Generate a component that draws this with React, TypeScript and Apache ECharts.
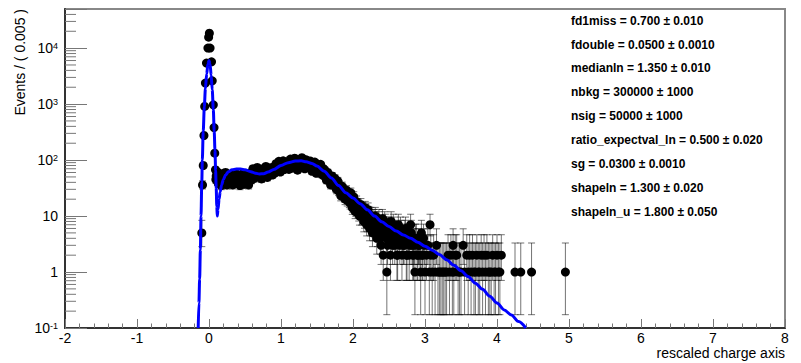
import React, { useEffect, useRef } from "react";
import * as echarts from "echarts";

const FONT = "'Liberation Sans', Arial, Helvetica, sans-serif";

// Peak region (x, events)
const peakX = [-0.1, -0.09, -0.08, -0.07, -0.06, -0.05, -0.035, -0.015, -0.005, 0.005, 0.015, 0.035, 0.045, 0.06, 0.07, 0.08, 0.09, 0.095];
const peakY = [5, 36, 80, 275, 910, 2370, 5400, 10000, 15700, 18500, 10000, 5700, 2600, 970, 380, 133, 67, 45];

// Dense band, bins starting at 0.10 every 0.02
const bandStart = 0.1;
const bandStep = 0.02;
const bandY = [
  52, 41, 58, 45, 37, 50, 44, 55, 39, 47, 52,
  42, 49, 38, 53, 45, 40, 51, 44, 37, 48, 54, 43, 50, 46, 56,
  49, 60, 53, 66, 57, 50, 63, 68, 55, 61, 72, 58, 65, 54, 69,
  75, 63, 82, 70, 88, 66, 78, 92, 71, 84,
  95, 76, 88, 102, 80, 93, 70, 98, 86, 105, 79, 91, 74, 96, 83,
  88, 71, 80, 66, 75, 62, 70, 57, 64, 52,
  58, 47, 54, 41, 46, 37, 43, 32, 38, 28,
  33, 25, 30, 22, 27, 19, 24, 17, 21, 15,
  19, 13, 16, 11, 14, 10, 13, 9, 12, 8,
  11, 7, 9, 6, 8,
];
// Interleaved bins starting at 0.11 every 0.02
const band2Start = 0.11;
const band2Y = [
  62, 38, 48, 35, 57, 42, 60, 36, 49, 40,
  55, 36, 47, 58, 39, 52, 35, 46, 57, 41, 38, 52, 36, 59, 44,
  70, 47, 58, 74, 51, 62, 46, 70, 59, 77, 49, 66, 56, 74, 62,
  58, 86, 66, 95, 61, 80, 97, 68, 89, 74,
  68, 104, 83, 72, 108, 90, 66, 100, 77, 110, 85, 70, 101, 80, 92,
  96, 63, 84, 92, 58, 78, 68, 84, 55, 70,
  66, 44, 60, 50, 36, 52, 40, 47, 30, 42,
  36, 23, 34, 26, 20, 29, 23, 18, 26, 14,
  22, 12, 18, 15, 10, 16, 12, 8, 14, 7,
  13, 6, 10, 5, 9,
  10, 4, 8, 6, 3, 9, 5, 7, 4, 6,
  5, 8, 3, 6, 4, 2, 7, 3, 5, 4,
  3, 6, 2, 4, 3, 5, 2, 3, 4, 2,
  3, 2, 5, 2, 3,
];

// Tail (x, counts)
const tailX = [
  2.32, 2.34, 2.36, 2.38, 2.4, 2.42, 2.44, 2.46, 2.47, 2.48, 2.5, 2.52, 2.54, 2.56, 2.58, 2.6, 2.62, 2.64, 2.66, 2.68,
  2.7, 2.72, 2.74, 2.76, 2.78, 2.8, 2.82, 2.84, 2.86, 2.88, 2.9, 2.92, 2.94, 2.96, 2.98, 3.0, 3.02, 3.04, 3.06, 3.07,
  3.08, 3.1, 3.12, 3.14, 3.16, 3.18, 3.2, 3.22, 3.24, 3.26, 3.28, 3.3, 3.32, 3.34, 3.36, 3.38, 3.39, 3.4, 3.42, 3.44,
  3.46, 3.48, 3.5, 3.53, 3.55, 3.58, 3.6, 3.62, 3.64, 3.66, 3.68, 3.7, 3.72, 3.74, 3.76, 3.78, 3.8, 3.82, 3.84, 3.86,
  3.88, 3.9, 3.92, 3.94, 3.96, 3.98, 4.0, 4.02, 4.04, 4.06, 4.25, 4.33, 4.48, 4.95,
];
const tailY = [
  7, 5, 9, 4, 6, 2, 8, 5, 1, 3, 6, 2, 4, 7, 3, 5, 2, 4, 6, 2,
  3, 5, 2, 4, 2, 7, 3, 2, 1, 4, 2, 3, 1, 2, 4, 1, 2, 3, 1, 7,
  2, 1, 2, 1, 3, 1, 1, 1, 1, 1, 1, 1, 2, 1, 2, 1, 3, 1, 2, 2,
  1, 1, 1, 3, 1, 2, 1, 2, 1, 2, 1, 1, 2, 1, 1, 2, 1, 2, 1, 2,
  1, 1, 1, 2, 1, 1, 2, 1, 1, 2, 1, 1, 1, 1,
];

// Fitted curve
const curveX = [
  -0.15, -0.14, -0.13, -0.12, -0.111, -0.1, -0.093, -0.08, -0.065, -0.05, -0.032, -0.015, 0, 0.015, 0.03, 0.045, 0.06,
  0.072, 0.083, 0.092, 0.1, 0.108, 0.115, 0.125, 0.14, 0.155, 0.175, 0.2, 0.23, 0.27, 0.32, 0.38, 0.44, 0.5, 0.58,
  0.65, 0.7, 0.76, 0.82, 0.9, 1.0, 1.1, 1.2, 1.28, 1.35, 1.43, 1.5, 1.6, 1.7, 1.8, 1.9, 2.0, 2.1, 2.2, 2.3, 2.4, 2.5,
  2.6, 2.7, 2.8, 2.9, 3.0, 3.1, 3.2, 3.3, 3.4, 3.5, 3.6, 3.7, 3.8, 3.9, 4.0, 4.1, 4.2, 4.3, 4.4,
];
const curveY = [
  0.1, 0.28, 0.75, 2.5, 10, 40, 100, 330, 900, 1900, 3500, 5200, 6000, 5200, 3300, 1800, 800,
  330, 150, 65, 32, 15, 10, 13, 20, 27, 36, 45, 54, 62, 67, 69, 69, 67, 62,
  58, 56.5, 57, 61, 68, 80, 90, 96, 97, 93, 87, 78, 63, 48, 35, 26, 21, 16.6, 12.9, 10, 7.9, 6.5,
  5.4, 4.6, 4.0, 3.4, 2.9, 2.45, 2.05, 1.66, 1.32, 1.05, 0.83, 0.63, 0.49, 0.37, 0.28, 0.21, 0.17, 0.13, 0.1,
];

// Poisson 68% intervals for small counts
const poisLo = [0, 0.173, 0.708, 1.367, 2.086, 2.84, 3.62, 4.419, 5.232, 6.057, 6.891];
const poisHi = [1.841, 3.3, 4.638, 5.918, 7.163, 8.382, 9.584, 10.77, 11.95, 13.11, 14.27];

const paramNames = ["fd1miss", "fdouble", "medianln", "nbkg", "nsig", "ratio_expectval_ln", "sg", "shapeln", "shapeln_u"];
const paramValues = ["0.700", "0.0500", "1.350", "300000", "50000", "0.500", "0.0300", "1.300", "1.800"];
const paramErrors = ["0.010", "0.0010", "0.010", "1000", "1000", "0.020", "0.0010", "0.020", "0.050"];

const yTitle = "Events / ( 0.005 )";
const xTitle = "rescaled charge axis";

function errRange(n: number): [number, number] {
  if (n <= 10) return [poisLo[n], poisHi[n]];
  const s = Math.sqrt(n + 0.25);
  return [n - s + 0.5, n + s + 0.5];
}

export default function App() {
  const ref = useRef<HTMLDivElement>(null);
  useEffect(() => {
    document.body.style.margin = "0";
    const chart = echarts.init(ref.current!, null, { renderer: "svg" });

    const pts: number[][] = [];
    peakX.forEach((x, i) => pts.push([x, peakY[i]]));
    bandY.forEach((y, i) => pts.push([+(bandStart + bandStep * i).toFixed(3), y]));
    band2Y.forEach((y, i) => pts.push([+(band2Start + bandStep * i).toFixed(3), y]));
    tailX.forEach((x, i) => pts.push([x, tailY[i]]));
    const errs = pts.map(([x, y]) => {
      const [lo, hi] = errRange(y);
      return [x, Math.max(lo, 0.1), hi];
    });
    const curve = curveX.map((x, i) => [x, curveY[i]]);

    const minors: number[][] = [];
    for (let k = -1; k <= 4; k++) {
      for (let m = 2; m <= 9; m++) {
        const v = m * Math.pow(10, k);
        if (v < 50000) minors.push([-2, v]);
      }
    }

    const textStyle = { fontFamily: FONT, fontSize: 12, fontWeight: "bold" as const, fill: "#000" };
    const graphics: any[] = paramNames.map((n, i) => ({
      type: "text",
      left: 571,
      top: 21.7 + i * 23.85 - 7,
      style: { ...textStyle, text: `${n} = ${paramValues[i]} ± ${paramErrors[i]}` },
    }));
    graphics.push({
      type: "text",
      x: 20,
      y: 9,
      rotation: Math.PI / 2,
      style: { text: yTitle, fontFamily: FONT, fontSize: 14, fill: "#000", align: "right", verticalAlign: "middle" },
    });
    graphics.push({
      type: "text",
      x: 785,
      y: 353,
      style: { text: xTitle, fontFamily: FONT, fontSize: 14, fill: "#000", align: "right", verticalAlign: "middle" },
    });

    chart.setOption({
      animation: false,
      grid: { left: 65, right: 16, top: 9, bottom: 35, show: true, borderColor: "#888", borderWidth: 2, backgroundColor: "transparent" },
      xAxis: {
        type: "value",
        min: -2,
        max: 8,
        interval: 1,
        axisLine: { show: true, onZero: false, lineStyle: { color: "#333", width: 2 } },
        axisTick: { show: true, inside: true, length: 9, lineStyle: { color: "#777", width: 1 } },
        minorTick: { show: true, splitNumber: 5, length: 4.5, lineStyle: { color: "#777", width: 1 } },
        splitLine: { show: false },
        axisLabel: { margin: 3, fontSize: 14, lineHeight: 14, color: "#000", fontFamily: FONT },
      },
      yAxis: {
        type: "log",
        logBase: 10,
        min: 0.1,
        max: 50000,
        axisLine: { show: true, onZero: false, lineStyle: { color: "#333", width: 2 } },
        axisTick: { show: true, inside: true, length: 22, lineStyle: { color: "#777", width: 1 } },
        splitLine: { show: false },
        axisLabel: {
          margin: 7,
          fontSize: 14,
          color: "#000",
          fontFamily: FONT,
          formatter: (v: number) => {
            const l = Math.log10(v);
            const k = Math.round(l);
            if (Math.abs(l - k) > 1e-6) return "";
            if (k === 0) return "1";
            if (k === 1) return "10";
            return `10{sup|${k}}`;
          },
          rich: { sup: { fontSize: 9, verticalAlign: "top", fontFamily: FONT, color: "#000" } },
        },
      },
      series: [
        {
          type: "custom",
          z: 2,
          data: minors,
          encode: { x: 0, y: 1 },
          renderItem: (_p: any, api: any) => {
            const p = api.coord([-2, api.value(1)]);
            return {
              type: "line",
              shape: { x1: p[0], y1: p[1], x2: p[0] + 11, y2: p[1] },
              style: { stroke: "#777", lineWidth: 1 },
            };
          },
        },
        {
          type: "custom",
          z: 3,
          data: errs,
          encode: { x: 0, y: [1, 2] },
          renderItem: (_p: any, api: any) => {
            const a = api.coord([api.value(0), api.value(1)]);
            const b = api.coord([api.value(0), api.value(2)]);
            const st = { stroke: "rgba(0,0,0,0.55)", lineWidth: 1 };
            return {
              type: "group",
              children: [
                { type: "line", shape: { x1: a[0], y1: a[1], x2: b[0], y2: b[1] }, style: st },
                { type: "line", shape: { x1: a[0] - 3.5, y1: a[1], x2: a[0] + 3.5, y2: a[1] }, style: st },
                { type: "line", shape: { x1: b[0] - 3.5, y1: b[1], x2: b[0] + 3.5, y2: b[1] }, style: st },
              ],
            };
          },
        },
        {
          type: "scatter",
          z: 4,
          data: pts,
          symbol: "circle",
          symbolSize: 9,
          itemStyle: { color: "#000", opacity: 1 },
        },
        {
          type: "line",
          z: 5,
          data: curve,
          showSymbol: false,
          smooth: 0.3,
          smoothMonotone: "x",
          lineStyle: { color: "#0000ff", width: 3 },
        },
      ],
      graphic: graphics,
    });
    return () => chart.dispose();
  }, []);
  return <div ref={ref} style={{ width: 801, height: 363, background: "#fff" }} />;
}
